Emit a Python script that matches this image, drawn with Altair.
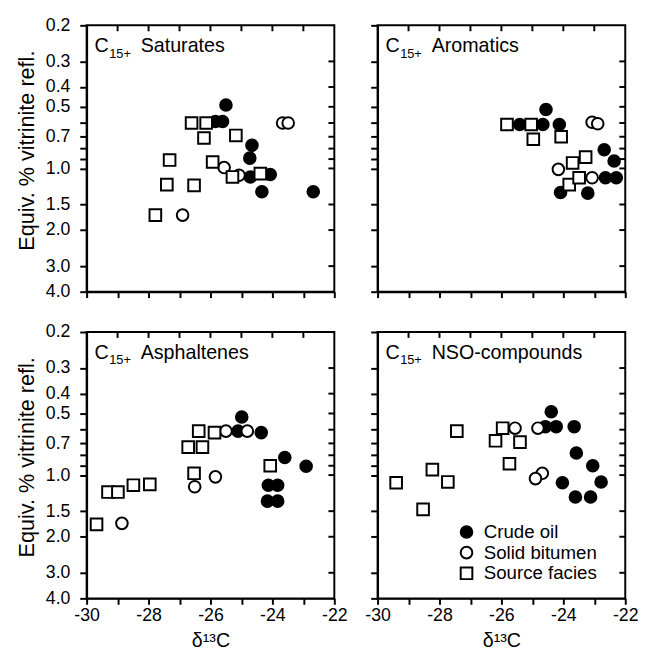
import altair as alt
import pandas as pd

CATS = ["Crude oil", "Solid bitumen", "Source facies"]
PANELS = ["Saturates", "Aromatics", "Asphaltenes", "NSO-compounds"]
TITLE_MAIN = "C"
TITLE_SUB = "15+"
X_TITLE = "δ¹³C"
Y_TITLE = "Equiv. % vitrinite refl."
X_TICKS = [-30, -29, -28, -27, -26, -25, -24, -23, -22]
Y_TICKS = [0.2, 0.3, 0.4, 0.5, 0.6, 0.7, 0.8, 0.9, 1.0, 1.5, 2.0, 3.0, 4.0]

# Saturates
sat_oil_x = [-25.50, -25.84, -25.61, -24.66, -24.73, -24.71, -24.07, -24.34, -22.68]
sat_oil_y = [0.49, 0.59, 0.59, 0.77, 0.89, 1.10, 1.07, 1.30, 1.30]
sat_bit_x = [-23.67, -23.49, -25.56, -25.08, -26.90]
sat_bit_y = [0.60, 0.60, 0.99, 1.08, 1.69]
sat_src_x = [-26.61, -26.14, -26.21, -25.18, -27.32, -25.93, -25.29, -24.39, -27.41, -26.53, -27.78]
sat_src_y = [0.60, 0.60, 0.71, 0.69, 0.91, 0.93, 1.10, 1.06, 1.20, 1.21, 1.69]

# Aromatics
aro_oil_x = [-24.56, -25.41, -24.66, -24.13, -22.68, -22.36, -22.64, -22.29, -24.09, -23.21]
aro_oil_y = [0.515, 0.61, 0.61, 0.61, 0.81, 0.92, 1.11, 1.11, 1.31, 1.32]
aro_bit_x = [-23.07, -22.89, -24.16, -23.07]
aro_bit_y = [0.595, 0.605, 1.01, 1.11]
aro_src_x = [-25.82, -25.04, -24.97, -24.07, -23.70, -23.28, -23.81, -23.49]
aro_src_y = [0.61, 0.61, 0.72, 0.70, 0.94, 0.88, 1.20, 1.11]

# Asphaltenes
asp_oil_x = [-24.99, -25.11, -24.36, -23.60, -22.91, -24.13, -23.83, -24.16, -23.83]
asp_oil_y = [0.52, 0.61, 0.62, 0.82, 0.905, 1.12, 1.12, 1.34, 1.34]
asp_bit_x = [-25.50, -24.81, -25.84, -26.51, -28.86]
asp_bit_y = [0.61, 0.61, 1.02, 1.14, 1.72]
asp_src_x = [-26.38, -25.87, -26.72, -26.26, -26.53, -24.07, -28.49, -27.96, -29.31, -28.99, -29.68]
asp_src_y = [0.61, 0.62, 0.73, 0.73, 0.98, 0.90, 1.12, 1.11, 1.21, 1.21, 1.74]

# NSO-compounds
nso_oil_x = [-24.39, -24.58, -24.23, -23.65, -23.58, -23.05, -22.78, -24.03, -23.61, -23.12]
nso_oil_y = [0.49, 0.58, 0.58, 0.58, 0.78, 0.90, 1.08, 1.09, 1.28, 1.28]
nso_bit_x = [-25.56, -24.82, -24.68, -24.90]
nso_bit_y = [0.59, 0.59, 0.98, 1.04]
nso_src_x = [-27.44, -25.96, -26.19, -25.40, -25.74, -28.23, -27.73, -29.40, -28.53]
nso_src_y = [0.61, 0.59, 0.68, 0.69, 0.88, 0.94, 1.08, 1.09, 1.47]

W, H = 252, 271
FONT = "Liberation Sans"


def make_df(ox, oy, bx, by, sx, sy):
    rows = []
    for cat, xs, ys in [(CATS[0], ox, oy), (CATS[1], bx, by), (CATS[2], sx, sy)]:
        for a, b in zip(xs, ys):
            rows.append({"x": a, "y": b, "cat": cat})
    return pd.DataFrame(rows)


def panel(name, df, show_x, show_y, legend):
    xscale = alt.Scale(domain=[-30, -22], nice=False, zero=False)
    yscale = alt.Scale(type="log", domain=[0.2, 4.0], reverse=True, nice=False)
    xaxis = alt.Axis(
        values=X_TICKS, labels=show_x, tickSize=6, labelPadding=3, labelFontSize=18,
        labelExpr="datum.value % 2 == 0 ? '-' + abs(datum.value) : ''",
        labelFlush=False, labelOverlap=False, titlePadding=6, titleFontSize=20,
        title=X_TITLE if show_x else None,
    )
    yaxis = alt.Axis(
        values=Y_TICKS, labels=show_y, tickSize=7, labelPadding=10, labelFontSize=18,
        labelExpr="indexof([0.6, 0.8, 0.9], datum.value) >= 0 ? '' : format(datum.value, '.1f')",
        labelOverlap=False, labelFlush=False, titlePadding=7, titleFontSize=22, titleY=127,
        title=Y_TITLE if show_y else None,
    )
    if legend:
        leg = alt.Legend(title=None, orient="none", legendX=81, legendY=194,
                         labelFontSize=19, rowPadding=0, labelOffset=8, padding=0,
                         symbolSize=140, symbolStrokeWidth=2)
    else:
        leg = None
    pts = alt.Chart(df).mark_point(filled=True, strokeWidth=2, size=140, opacity=1).encode(
        x=alt.X("x:Q", scale=xscale, axis=xaxis),
        y=alt.Y("y:Q", scale=yscale, axis=yaxis),
        shape=alt.Shape("cat:N", scale=alt.Scale(domain=CATS, range=["circle", "circle", "square"]), legend=leg),
        fill=alt.Fill("cat:N", scale=alt.Scale(domain=CATS, range=["black", "white", "white"]), legend=leg),
        stroke=alt.Stroke("cat:N", scale=alt.Scale(domain=CATS, range=["black", "black", "black"]), legend=leg),
    )
    top = alt.Chart(pd.DataFrame({"x": X_TICKS[1:-1]})).mark_rule(color="black", strokeWidth=2).encode(
        x=alt.X("x:Q", scale=xscale, axis=xaxis), y=alt.value(0), y2=alt.value(6)
    )
    right = alt.Chart(pd.DataFrame({"y": Y_TICKS[1:-1]})).mark_rule(color="black", strokeWidth=2).encode(
        y=alt.Y("y:Q", scale=yscale, axis=yaxis), x=alt.value(W - 6), x2=alt.value(W)
    )
    td = pd.DataFrame({"t": [name]})
    t1 = alt.Chart(td).mark_text(text=TITLE_MAIN, fontSize=20, align="left", baseline="alphabetic", font=FONT, color="black").encode(
        x=alt.value(8), y=alt.value(27))
    t2 = alt.Chart(td).mark_text(text=TITLE_SUB, fontSize=13, align="left", baseline="alphabetic", font=FONT, color="black").encode(
        x=alt.value(23), y=alt.value(33))
    t3 = alt.Chart(td).mark_text(fontSize=20, align="left", baseline="alphabetic", font=FONT, color="black").encode(
        x=alt.value(55), y=alt.value(27), text="t:N")
    return alt.layer(pts, top, right, t1, t2, t3).properties(width=W, height=H)


tl = panel(PANELS[0], make_df(sat_oil_x, sat_oil_y, sat_bit_x, sat_bit_y, sat_src_x, sat_src_y), False, True, False)
tr = panel(PANELS[1], make_df(aro_oil_x, aro_oil_y, aro_bit_x, aro_bit_y, aro_src_x, aro_src_y), False, False, False)
bl = panel(PANELS[2], make_df(asp_oil_x, asp_oil_y, asp_bit_x, asp_bit_y, asp_src_x, asp_src_y), True, True, False)
br = panel(PANELS[3], make_df(nso_oil_x, nso_oil_y, nso_bit_x, nso_bit_y, nso_src_x, nso_src_y), True, False, True)

chart = alt.concat(
    tl, tr, bl, br, columns=2, spacing={"row": 41, "column": 44}, bounds="flush"
).resolve_legend(
    fill="independent", shape="independent", stroke="independent"
).properties(
    padding={"left": 6, "top": 2, "right": 0, "bottom": 0}
).configure(
    font=FONT
).configure_view(
    stroke="black", strokeWidth=2
).configure_axis(
    grid=False, domainColor="black", domainWidth=2, tickColor="black", tickWidth=2,
    labelColor="black", titleColor="black", labelFont=FONT, titleFont=FONT,
    titleFontWeight="normal"
).configure_legend(
    labelFont=FONT, labelColor="black"
)

chart.save("out.html", embed_options={"renderer": "svg", "actions": False})
